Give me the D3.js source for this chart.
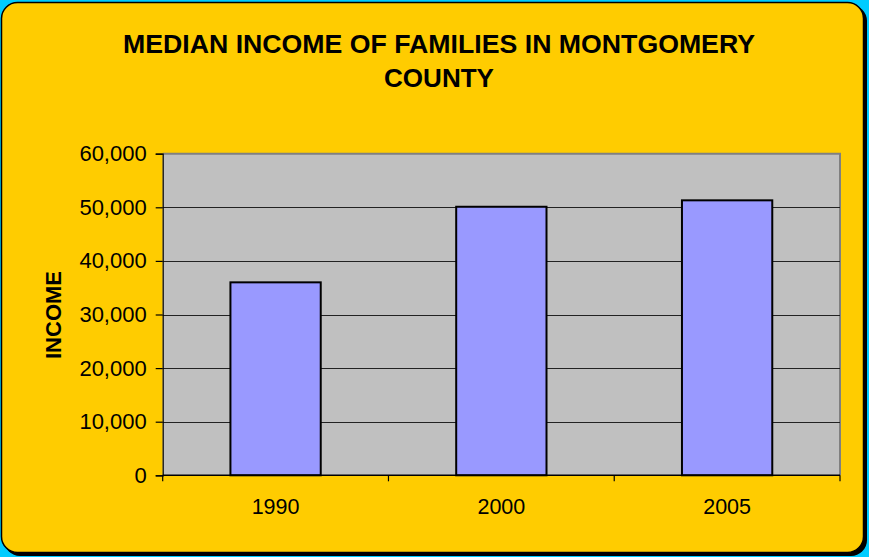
<!DOCTYPE html>
<html><head><meta charset="utf-8">
<script src="https://cdn.jsdelivr.net/npm/d3@7"></script>
<style>html,body{margin:0;padding:0;background:#fff;}svg{display:block;}</style>
</head><body>
<svg id="chart" width="869" height="557"></svg>
<script>
const categories = ["1990", "2000", "2005"];
const incomeValues = [36000, 50100, 51300];
const yTicks = [0, 10000, 20000, 30000, 40000, 50000, 60000];
const titleLines = ["MEDIAN INCOME OF FAMILIES IN MONTGOMERY", "COUNTY"];
const yAxisTitle = "INCOME";

const svg = d3.select("#chart");
const W = 869, H = 557;
const font = "'Liberation Sans', Arial, sans-serif";

// cyan page background
svg.append("rect").attr("x",0).attr("y",0).attr("width",W).attr("height",H).attr("fill","#00CCFF");
// shadow
svg.append("rect").attr("x",4).attr("y",5).attr("width",863).attr("height",551).attr("rx",16).attr("fill","#000");
// chart area
svg.append("rect").attr("x",1.5).attr("y",2.5).attr("width",862).attr("height",550).attr("rx",16)
  .attr("fill","#FFCC00").attr("stroke","#000").attr("stroke-width",1.5);

const plot = {left:162.7, top:153.7, right:840, bottom:475.3};

const x = d3.scaleBand().domain(categories).range([plot.left, plot.right]).paddingInner(0.6).paddingOuter(0.3);
const xb = d3.scaleBand().domain(categories).range([plot.left, plot.right]);
const y = d3.scaleLinear().domain([0, 60000]).range([plot.bottom, plot.top]);

// plot background
svg.append("rect").attr("x",plot.left).attr("y",plot.top).attr("width",plot.right-plot.left).attr("height",plot.bottom-plot.top)
  .attr("fill","#C0C0C0");
// gray border top/right
svg.append("path").attr("d",`M${plot.left},${plot.top}H${plot.right}V${plot.bottom}`)
  .attr("fill","none").attr("stroke","#808080").attr("stroke-width",2);

// gridlines
svg.append("g").selectAll("line").data(yTicks.filter(d=>d>0 && d<60000)).join("line")
  .attr("x1",plot.left).attr("x2",plot.right)
  .attr("y1",d=>Math.round(y(d))+0.5).attr("y2",d=>Math.round(y(d))+0.5)
  .attr("stroke","#222").attr("stroke-width",1);

// bars
svg.append("g").selectAll("rect").data(categories).join("rect")
  .attr("x",d=>x(d)).attr("width",x.bandwidth())
  .attr("y",(d,i)=>y(incomeValues[i])).attr("height",(d,i)=>plot.bottom-y(incomeValues[i]))
  .attr("fill","#9999FF").attr("stroke","#000").attr("stroke-width",2);

// y axis
const yAxis = d3.axisLeft(y).tickValues(yTicks).tickSize(7).tickPadding(9).tickFormat(d3.format(","));
const gy = svg.append("g").attr("transform",`translate(${plot.left},0)`).call(yAxis);
gy.select(".domain").attr("stroke","#000").attr("stroke-width",1.2);
gy.selectAll(".tick line").attr("stroke","#000").attr("stroke-width",1.2);
gy.selectAll(".tick text").attr("font-family",font).attr("font-size",22).attr("fill","#000");

// x axis with ticks at category boundaries
const gx = svg.append("g").attr("transform",`translate(0,${plot.bottom})`);
gx.append("line").attr("x1",plot.left).attr("x2",plot.right).attr("stroke","#000").attr("stroke-width",1.5);
const bounds = categories.map(c=>xb(c)).concat([plot.right]);
gx.selectAll("line.t").data(bounds).join("line").attr("class","t")
  .attr("x1",d=>d).attr("x2",d=>d).attr("y1",0).attr("y2",6).attr("stroke","#000").attr("stroke-width",1.2);
gx.selectAll("text").data(categories).join("text")
  .attr("x",d=>xb(d)+xb.bandwidth()/2).attr("y",39).attr("text-anchor","middle")
  .attr("font-family",font).attr("font-size",21.5).text(d=>d);

// titles
svg.append("g").selectAll("text").data(titleLines).join("text")
  .attr("x",439).attr("y",(d,i)=>53+i*34).attr("text-anchor","middle")
  .attr("font-family",font).attr("font-weight","bold").attr("font-size",26)
  .attr("textLength",(d,i)=>i===0?632:110).attr("lengthAdjust","spacingAndGlyphs")
  .text(d=>d);

svg.append("text").attr("transform","translate(61,315) rotate(-90)").attr("text-anchor","middle")
  .attr("font-family",font).attr("font-weight","bold").attr("font-size",22).text(yAxisTitle);
</script>
</body></html>
